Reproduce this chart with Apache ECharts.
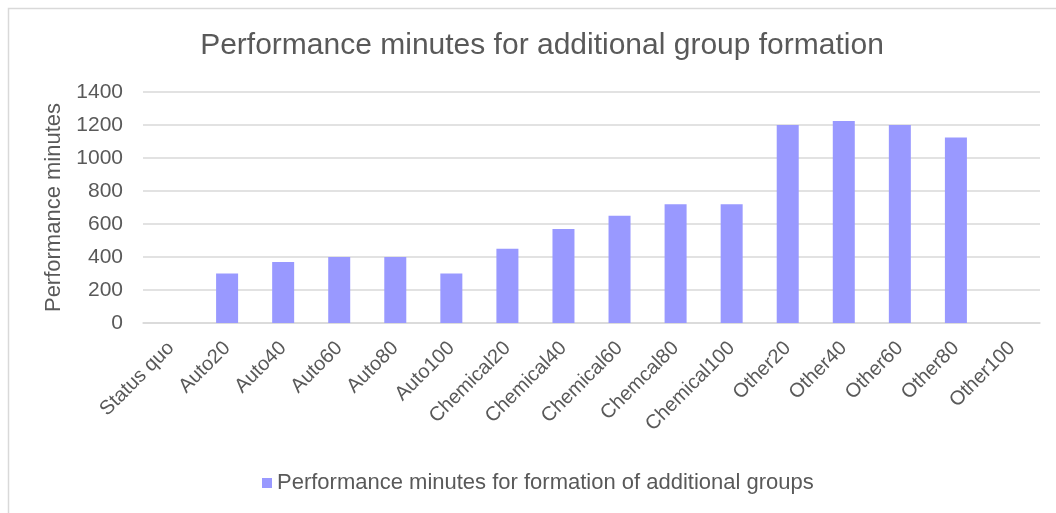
<!DOCTYPE html>
<html>
<head>
<meta charset="utf-8">
<script src="https://cdn.jsdelivr.net/npm/echarts@6/dist/echarts.min.js"></script>
<style>html,body{margin:0;padding:0;background:#fff;}#c{width:1056px;height:513px;}</style>
</head>
<body>
<div id="c"></div>
<script>
const categories = ["Status quo","Auto20","Auto40","Auto60","Auto80","Auto100","Chemical20","Chemical40","Chemical60","Chemcal80","Chemical100","Other20","Other40","Other60","Other80","Other100"];
const performanceMinutes = [null,300,370,400,400,300,450,570,650,720,720,1200,1225,1200,1125,null];
const yTicks = [0,200,400,600,800,1000,1200,1400];
const titleText = "Performance minutes for additional group formation";
const yAxisTitle = "Performance minutes";
const seriesName = "Performance minutes for formation of additional groups";

const chart = echarts.init(document.getElementById('c'), null, {renderer:'canvas'});
const font = "'Liberation Sans', Arial, sans-serif";
chart.setOption({
  animation:false,
  backgroundColor:'#fff',
  textStyle:{fontFamily:font},
  graphic:[{type:'rect',shape:{x:8.5,y:8.5,width:1200,height:700},style:{fill:'none',stroke:'#d9d9d9',lineWidth:1.5},silent:true}],
  title:{text:titleText,left:537,textAlign:'center',top:26,textStyle:{fontFamily:font,fontSize:30,fontWeight:'normal',color:'#595959'}},
  legend:{top:467,left:257,itemWidth:10,itemHeight:10,icon:'rect',itemGap:8,textStyle:{fontFamily:font,fontSize:22,color:'#595959'},data:[seriesName]},
  grid:{left:143,right:16,top:92,bottom:190,containLabel:false},
  xAxis:{type:'category',data:categories,axisLine:{show:true,lineStyle:{color:'#d9d9d9',width:1.5}},axisTick:{show:false},
    axisLabel:{rotate:45,interval:0,fontFamily:font,fontSize:20,color:'#595959',margin:22}},
  yAxis:{type:'value',min:yTicks[0],max:yTicks[yTicks.length-1],interval:200,
    name:yAxisTitle,nameLocation:'middle',nameGap:62,nameTextStyle:{fontFamily:font,fontSize:22,color:'#595959'},
    axisLine:{show:false},axisTick:{show:false},
    axisLabel:{fontFamily:font,fontSize:21,color:'#595959',margin:20,formatter:function(v){return String(v);}},
    splitLine:{lineStyle:{color:'#d9d9d9',width:1.5}}},
  series:[{name:seriesName,type:'bar',data:performanceMinutes,barWidth:22,itemStyle:{color:'#9999ff'}}]
});
</script>
</body>
</html>
